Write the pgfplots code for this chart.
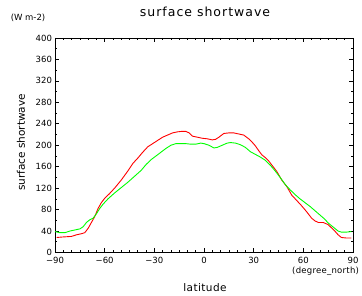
\documentclass[border=0pt]{standalone}
\usepackage{fontspec}
\setmainfont{DejaVu Sans}
\usepackage{pgfplots}
\pgfplotsset{compat=1.18}
\pgfplotstableread{
lat val
-89 28
-85 29
-80 30
-77 33
-74 35
-72 37
-70 45
-68 56
-66 67
-64 82
-62 93
-60 101
-57 110
-54 120
-50 135
-46 152
-43 166
-40 176
-37 187
-34 197
-31 203
-28 209
-25 215
-22 219
-19 223
-16 225
-13 226
-11 226
-9 223
-7 217
-4 215
-1 213
2 212
5 210
7 211
9 215
12 222
15 223
18 223
21 221
24 219
27 212
29 206
31 199
33 190
35 182
37 177
39 171
41 163
44 151
47 135
50 123
53 107
56 97
59 87
62 76
65 64
67 59
69 56
72 56
75 52
77 46
79 40
81 33
83 28
86 27
89 27
}\redtab
\pgfplotstableread{
lat val
-90 39
-87 37
-84 37
-81 40
-78 42
-75 44
-73 48
-71 56
-69 61
-67 64
-65 72
-63 82
-61 90
-58 100
-54 111
-50 121
-46 131
-42 142
-38 153
-35 164
-32 173
-29 180
-26 187
-23 194
-20 200
-17 203
-14 203
-11 203
-8 202
-5 202
-2 204
0 203
3 200
6 195
8 196
11 200
14 204
16 205
19 204
22 201
25 196
28 188
31 183
34 178
37 172
40 163
43 152
46 140
49 127
52 117
55 108
58 100
61 93
64 86
67 78
70 70
73 62
75 55
77 50
79 45
81 40
83 38
86 38
89 39
}\greentab
\begin{document}
\begin{tikzpicture}[x=1pt,y=1pt]
\useasboundingbox (0,0) rectangle (362,296);
\begin{axis}[
  at={(55pt,43.5pt)}, anchor=south west,
  scale only axis, width=298pt, height=214.5pt,
  xmin=-90, xmax=90, ymin=0, ymax=400,
  xtick={-90,-60,-30,0,30,60,90},
  xticklabels={−90,−60,−30,0,30,60,90},
  ytick={0,40,...,400},
  minor x tick num=5, minor y tick num=1,
  tick align=inside,
  major tick length=4.5pt, minor tick length=2.5pt,
  tick style={black, line width=0.6pt},
  axis line style={black, line width=0.8pt},
  ticklabel style={font=\fontsize{8.5}{10}\selectfont},
  /pgf/number format/assume math mode=true,
  xticklabel style={yshift=-1.5pt},
  yticklabel style={xshift=0.5pt},
  clip=false,
]
\addplot[red, line width=0.9pt] table[x=lat,y=val] {\redtab};
\addplot[green, line width=0.9pt] table[x=lat,y=val] {\greentab};
\end{axis}
\node[font=\fontsize{12.5}{14}\selectfont\addfontfeature{LetterSpace=8}] at (205,284) {surface shortwave};
\node[font=\fontsize{8.5}{10}\selectfont] at (28,278) {(W m-2)};
\node[font=\fontsize{10.5}{12}\selectfont, rotate=90] at (21,153.5) {surface shortwave};
\node[font=\fontsize{10.5}{12}\selectfont\addfontfeature{LetterSpace=4}] at (205,8) {latitude};
\node[font=\fontsize{8.5}{10}\selectfont\addfontfeature{LetterSpace=3}, anchor=west, inner sep=0pt] at (292,24.5) {(degree\_north)};
\end{tikzpicture}
\end{document}
